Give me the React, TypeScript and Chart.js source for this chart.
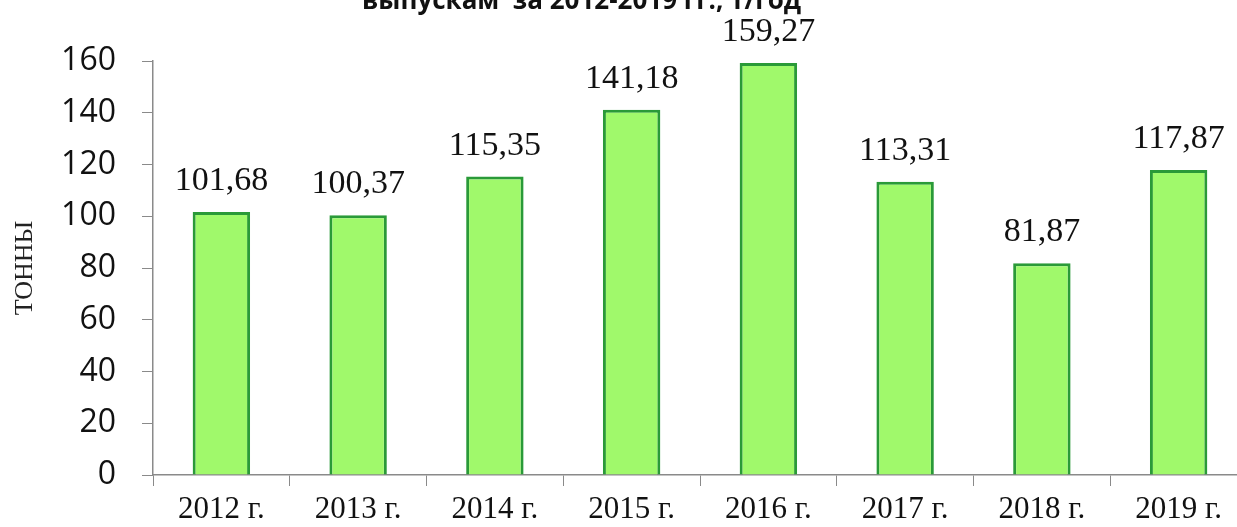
import React, { useEffect, useRef } from "react";
import { Chart, registerables } from "chart.js";

Chart.register(...registerables);

const categories = ["2012 г.", "2013 г.", "2014 г.", "2015 г.", "2016 г.", "2017 г.", "2018 г.", "2019 г."];
const values = [101.68, 100.37, 115.35, 141.18, 159.27, 113.31, 81.87, 117.87];
const yTicks = [0, 20, 40, 60, 80, 100, 120, 140, 160];
const titleText = "выпускам  за 2012-2019 гг., т/год";
const yAxisTitle = "ТОННЫ";

const valueLabels = {
  id: "valueLabels",
  afterDatasetsDraw(chart: any) {
    const ctx = chart.ctx;
    const meta = chart.getDatasetMeta(0);
    ctx.save();
    ctx.font = "34px 'Liberation Serif', 'Times New Roman', serif";
    ctx.fillStyle = "#111";
    ctx.textAlign = "center";
    ctx.textBaseline = "alphabetic";
    meta.data.forEach((bar: any, i: number) => {
      const v = values[i].toFixed(2).replace(".", ",");
      ctx.fillText(v, bar.x, bar.y - 22);
    });
    ctx.restore();
  },
};

export default function App() {
  const ref = useRef<HTMLCanvasElement>(null);
  useEffect(() => {
    document.body.style.margin = "0";
    document.body.style.overflow = "hidden";
    const chart = new Chart(ref.current!, {
      type: "bar",
      data: {
        labels: categories,
        datasets: [
          {
            data: values,
            backgroundColor: "#a0f96b",
            borderColor: "#2a9a38",
            borderWidth: 3,
            barPercentage: 0.42,
            categoryPercentage: 1,
          },
        ],
      },
      options: {
        animation: false,
        responsive: false,
        maintainAspectRatio: false,
        layout: { padding: { top: 61, right: 0, left: 0, bottom: 0 } },
        plugins: { legend: { display: false }, tooltip: { enabled: false }, title: { display: false } },
        scales: {
          x: {
            offset: true,
            grid: { display: true, drawOnChartArea: false, drawTicks: true, tickLength: 11, tickColor: "#8a8a8a", offset: true },
            border: { display: true, color: "#8a8a8a", width: 1.5 },
            ticks: {
              color: "#111",
              padding: 5,
              maxRotation: 0,
              autoSkip: false,
              font: { family: "'Liberation Serif', 'Times New Roman', serif", size: 31 },
            },
            afterFit: (s: any) => { s.height = 52; },
          },
          y: {
            min: 0,
            max: 160,
            afterBuildTicks: (s: any) => { s.ticks = yTicks.map((v) => ({ value: v })); },
            grid: { display: true, drawOnChartArea: false, drawTicks: true, tickLength: 11, tickColor: "#8a8a8a" },
            border: { display: true, color: "#8a8a8a", width: 1.5 },
            ticks: {
              color: "#111",
              padding: 26,
              font: { family: "'Open Sans', sans-serif", size: 32 },
            },
            title: {
              display: true,
              text: yAxisTitle,
              color: "#222",
              padding: { top: 10, bottom: 0 },
              font: { family: "'Liberation Serif', 'Times New Roman', serif", size: 26 },
            },
            afterFit: (s: any) => { s.width = 153; },
          },
        },
      },
      plugins: [valueLabels],
    });
    return () => chart.destroy();
  }, []);
  return (
    <div style={{ position: "fixed", left: 0, top: 0, width: 1237, height: 527, overflow: "hidden", background: "#fff" }}>
      <canvas ref={ref} width={1247} height={527} style={{ position: "absolute", left: 0, top: 0 }} />
      <div
        style={{
          position: "absolute",
          left: 362,
          top: -14,
          lineHeight: "26px",
          fontFamily: "'Open Sans', sans-serif",
          fontWeight: 700,
          fontSize: 26,
          color: "#111",
          whiteSpace: "pre",
        }}
      >
        {titleText}
      </div>
    </div>
  );
}
